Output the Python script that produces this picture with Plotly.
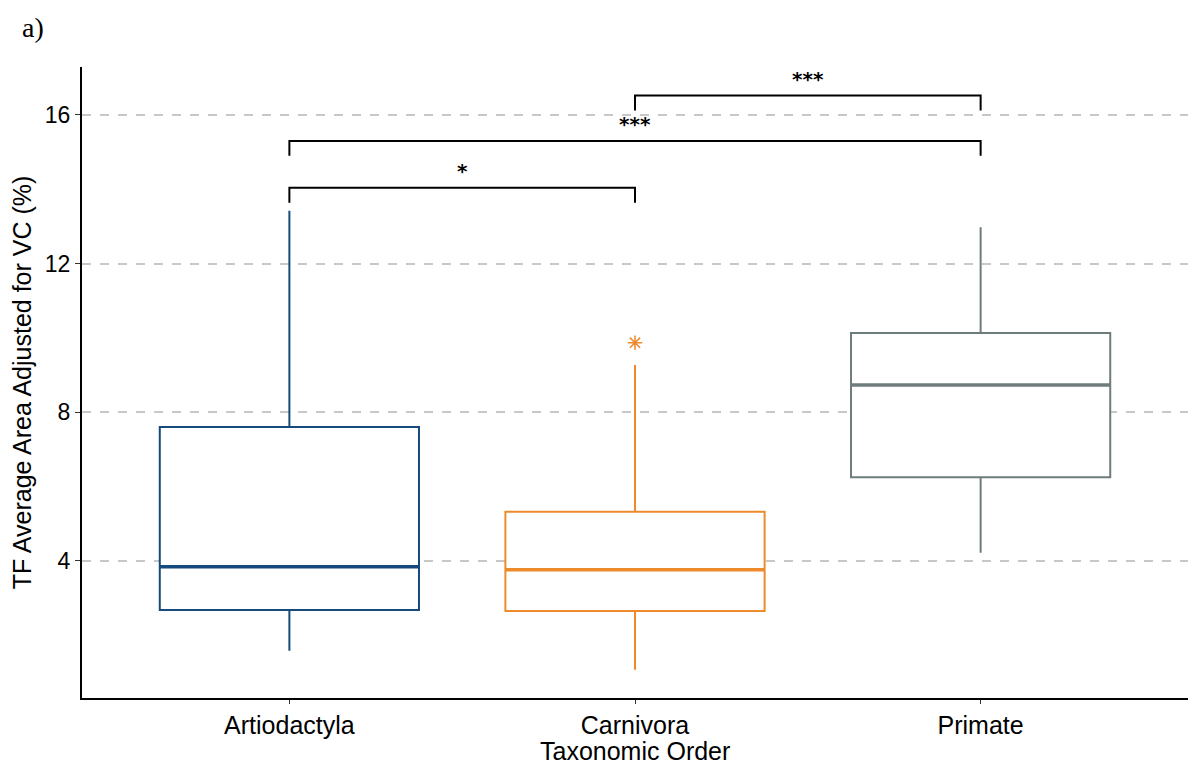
import plotly.graph_objects as go

# ---- data ----
categories = ["Artiodactyla", "Carnivora", "Primate"]
q1_vals = [2.68, 2.65, 6.25]
median_vals = [3.84, 3.76, 8.73]
q3_vals = [7.60, 5.32, 10.13]
lower_whisker = [1.58, 1.07, 4.22]
upper_whisker = [13.42, 9.27, 12.98]
outlier_group = [1]
outlier_vals = [9.87]
colors = ["#174a7c", "#ee8a2c", "#6f7c7c"]

# significance comparisons: (group a, group b, bracket height, label)
comp_a = [0, 0, 1]
comp_b = [1, 2, 2]
comp_y = [14.04, 15.30, 16.52]
comp_tip = 0.40
comp_label = ["*", "***", "***"]

y_ticks = [4, 8, 12, 16]

box_w = 0.75

fig = go.Figure()
xs = list(range(len(categories)))
for i, cat in enumerate(categories):
    fig.add_trace(go.Box(
        x=[xs[i]], q1=[q1_vals[i]], median=[median_vals[i]], q3=[q3_vals[i]],
        lowerfence=[lower_whisker[i]], upperfence=[upper_whisker[i]],
        width=box_w, whiskerwidth=0, boxpoints=False,
        fillcolor="white", line=dict(color=colors[i], width=2),
        name=cat, showlegend=False, hoverinfo="skip"))
    # thicker median line
    fig.add_trace(go.Scatter(
        x=[xs[i] - box_w / 2, xs[i] + box_w / 2],
        y=[median_vals[i], median_vals[i]], mode="lines",
        line=dict(color=colors[i], width=3.5), showlegend=False, hoverinfo="skip"))

# outliers
oc = colors[outlier_group[0]]
fig.add_trace(go.Scatter(
    x=[xs[g] for g in outlier_group], y=outlier_vals, mode="markers",
    marker=dict(symbol="asterisk-open", size=12, color=oc,
                line=dict(color=oc, width=1.5)),
    showlegend=False, hoverinfo="skip"))

# brackets
for a, b, yv, lab in zip(comp_a, comp_b, comp_y, comp_label):
    fig.add_trace(go.Scatter(
        x=[xs[a], xs[a], xs[b], xs[b]],
        y=[yv - comp_tip, yv, yv, yv - comp_tip], mode="lines",
        line=dict(color="black", width=2), showlegend=False, hoverinfo="skip"))
    fig.add_annotation(x=(xs[a] + xs[b]) / 2, y=yv, text="<b>" + lab + "</b>", showarrow=False,
                       yanchor="bottom", yshift=3,
                       font=dict(family="DejaVu Sans, Liberation Sans", size=20, color="black"))

fig.add_annotation(xref="paper", yref="paper", x=-0.056, y=1.0,
                   yshift=57, text="a)", showarrow=False, xanchor="left", yanchor="top",
                   font=dict(family="Liberation Serif, Times New Roman", size=28, color="black"))

# x-axis title as annotation to control its placement
fig.add_annotation(xref="paper", yref="paper", x=0.5, y=0, yshift=-53,
                   text="Taxonomic Order", showarrow=False, xanchor="center", yanchor="middle",
                   font=dict(family="Liberation Sans, Arial", size=25, color="black"))

fig.update_layout(
    width=1188, height=765,
    margin=dict(l=82, r=0, t=67, b=67),
    paper_bgcolor="white", plot_bgcolor="white",
    font=dict(family="Liberation Sans, Arial", size=25, color="black"),
    showlegend=False,
)
fig.update_xaxes(
    range=[-0.6, 2.6], tickvals=xs, ticktext=categories,
    showline=True, linecolor="black", linewidth=2,
    ticks="outside", ticklen=4, tickcolor="#333333", tickwidth=1,
    showgrid=False, zeroline=False,
    tickfont=dict(size=25, color="black"))
fig.update_yaxes(
    range=[0.31, 17.29], tickvals=y_ticks,
    showline=True, linecolor="black", linewidth=2,
    ticks="outside", ticklen=5, tickcolor="#333333", tickwidth=1,
    showgrid=True, gridcolor="#c8c8c8", griddash="dash", gridwidth=1.5,
    zeroline=False,
    title=dict(text="TF Average Area Adjusted for VC (%)", standoff=6, font=dict(size=25)),
    tickfont=dict(size=23, color="black"))

fig.write_html("out.html")
